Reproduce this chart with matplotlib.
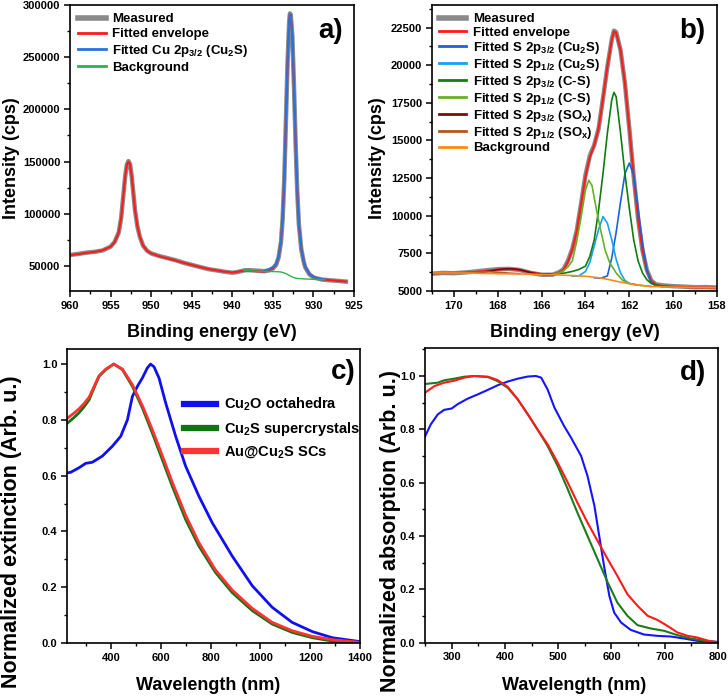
import matplotlib
matplotlib.use("Agg")
import matplotlib.pyplot as plt
from matplotlib.ticker import MultipleLocator, AutoMinorLocator

plt.rcParams['font.family'] = ['Liberation Sans', 'DejaVu Sans']
plt.rcParams['font.weight'] = 'bold'
plt.rcParams['axes.labelweight'] = 'bold'
plt.rcParams['mathtext.fontset'] = 'custom'
plt.rcParams['mathtext.rm'] = 'Liberation Sans:bold'
plt.rcParams['mathtext.bf'] = 'Liberation Sans:bold'
plt.rcParams['mathtext.it'] = 'Liberation Sans:bold'
plt.rcParams['mathtext.default'] = 'bf'

# ---- a) Cu 2p XPS ----
a_energy = [960.0, 959.0, 958.0, 957.0, 956.0, 955.0, 954.5, 954.0, 953.7, 953.4,
            953.2, 953.0, 952.8, 952.6, 952.4, 952.2, 952.0, 951.7, 951.4, 951.0,
            950.5, 950.0, 949.0, 948.0, 947.0, 946.0, 945.0, 944.0, 943.0, 942.0,
            941.0, 940.0, 939.5, 939.0, 938.5, 938.0, 937.0, 936.0, 935.5, 935.0,
            934.6, 934.3, 934.0, 933.8, 933.6, 933.4, 933.2, 933.0, 932.9, 932.8,
            932.6, 932.4, 932.2, 932.0, 931.8, 931.5, 931.2, 931.0, 930.5, 930.0,
            929.5, 929.0, 928.0, 927.0, 926.0]
a_measured = [60500, 61500, 62700, 63500, 64800, 68500, 73000, 82000, 96000, 120000,
              136000, 147000, 150500, 147500, 136000, 120000, 104000, 88000, 78000, 69500,
              64500, 62000, 59500, 57500, 55500, 53000, 51000, 49000, 47000, 45800,
              44500, 43500, 44000, 44800, 45800, 46000, 45500, 45000, 45800, 47500,
              51000, 58000, 73000, 95000, 132000, 187000, 243000, 283000, 292000, 291000,
              270000, 222000, 168000, 122000, 90000, 66000, 54000, 48500, 42000, 39000,
              38000, 37000, 36300, 35700, 35000]
a_envelope = [60300, 61400, 62500, 63500, 64900, 68500, 73000, 82000, 96000, 120000,
              136000, 147000, 150000, 147000, 136000, 120000, 104000, 88000, 78000, 69500,
              64500, 62000, 59300, 57300, 55300, 53000, 51000, 49000, 47200, 45800,
              44600, 43800, 44200, 45000, 45500, 45500, 45000, 44600, 45800, 47800,
              51500, 58500, 73500, 95500, 132000, 187000, 243000, 283000, 291000, 290500,
              269500, 221500, 168000, 122000, 90500, 66500, 54500, 48800, 42300, 39500,
              38000, 37200, 36400, 35700, 35100]
a_cu_energy = [936.2, 935.5, 935.0, 934.6, 934.3, 934.0, 933.8, 933.6, 933.4, 933.2,
               933.0, 932.9, 932.8, 932.6, 932.4, 932.2, 932.0, 931.8, 931.5, 931.2,
               931.0, 930.5, 930.0, 929.5, 929.0, 928.6]
a_cu_fit = [45000, 46800, 49000, 52500, 59000, 74000, 96000, 132000, 187000, 243000,
            283000, 291000, 290500, 269500, 221500, 168000, 122000, 90500, 66500, 54500,
            48800, 42300, 39500, 38000, 37300, 37000]
a_bg_energy = [938.6, 938.0, 937.0, 936.0, 935.0, 934.5, 934.0, 933.5, 933.0, 932.5,
               932.0, 931.0, 930.0, 929.0, 928.6]
a_background = [45800, 45500, 45000, 44800, 44600, 44500, 44200, 43000, 41000, 39000,
                38000, 37500, 37200, 37000, 37000]

# ---- b) S 2p XPS ----
b_energy = [171.0, 170.5, 170.0, 169.5, 169.0, 168.5, 168.0, 167.5, 167.0, 166.5,
            166.0, 165.5, 165.2, 165.0, 164.8, 164.6, 164.4, 164.2, 164.0, 163.8,
            163.6, 163.4, 163.2, 163.0, 162.8, 162.7, 162.6, 162.4, 162.2, 162.0,
            161.8, 161.6, 161.4, 161.2, 161.0, 160.8, 160.5, 160.0, 159.5, 159.0,
            158.5, 158.0]
b_measured = [6150, 6200, 6180, 6230, 6300, 6380, 6450, 6470, 6400, 6200,
              6080, 6080, 6250, 6450, 7000, 7800, 9000, 10800, 12700, 14000,
              14700, 15800, 17800, 19900, 21700, 22300, 22200, 21000, 18800, 15800,
              12600, 9800, 7700, 6400, 5700, 5450, 5380, 5320, 5290, 5250,
              5260, 5230]
b_envelope = [6180, 6190, 6200, 6220, 6270, 6340, 6420, 6460, 6400, 6250,
              6120, 6110, 6220, 6420, 6950, 7750, 8950, 10750, 12600, 13900,
              14700, 15800, 17800, 19900, 21700, 22250, 22150, 21000, 18800, 15800,
              12600, 9800, 7700, 6350, 5680, 5420, 5330, 5280, 5260, 5240,
              5230, 5220]
b_cu2s_32_e = [163.6, 163.3, 163.0, 162.8, 162.6, 162.4, 162.2, 162.0, 161.8, 161.6,
               161.4, 161.2, 161.0, 160.8, 160.5]
b_cu2s_32 = [5880, 5850, 6000, 7200, 8900, 10900, 12800, 13500, 12700, 10500,
             8200, 6400, 5550, 5350, 5290]
b_cu2s_12_e = [164.6, 164.3, 164.0, 163.8, 163.6, 163.4, 163.2, 163.0, 162.8, 162.6,
               162.4, 162.2, 162.0, 161.6]
b_cu2s_12 = [5980, 6000, 6300, 6900, 8000, 9100, 9950, 9500, 8400, 7100,
             6200, 5700, 5500, 5380]
b_cs_32_e = [166.0, 165.5, 165.0, 164.6, 164.3, 164.0, 163.8, 163.6, 163.4, 163.2,
             163.0, 162.8, 162.7, 162.6, 162.4, 162.2, 162.0, 161.8, 161.6, 161.4,
             161.2, 161.0, 160.6, 160.0]
b_cs_32 = [6110, 6130, 6180, 6300, 6430, 6650, 7300, 8400, 10400, 12800,
           15500, 17700, 18200, 17900, 15500, 12800, 10500, 8400, 7000, 6200,
           5750, 5500, 5350, 5270]
b_cs_12_e = [165.6, 165.2, 165.0, 164.8, 164.6, 164.4, 164.2, 164.0, 163.85, 163.7,
             163.5, 163.3, 163.1, 162.9, 162.6, 162.3, 162.0, 161.5, 161.0]
b_cs_12 = [6080, 6200, 6350, 6600, 7000, 8300, 9900, 11700, 12360, 12000,
           10400, 9000, 7700, 6900, 6200, 5700, 5500, 5380, 5300]
b_sox_32_e = [169.2, 168.8, 168.4, 168.0, 167.7, 167.4, 167.1, 166.8, 166.5, 166.2,
              165.8, 165.4]
b_sox_32 = [6180, 6230, 6320, 6420, 6470, 6480, 6440, 6340, 6220, 6140,
            6090, 6070]
b_sox_12_e = [170.0, 169.5, 169.0, 168.6, 168.2, 167.8, 167.4, 167.0]
b_sox_12 = [6200, 6210, 6250, 6290, 6260, 6220, 6180, 6150]
b_bg_e = [171.0, 170.0, 169.0, 168.0, 167.0, 166.0, 165.0, 164.5, 164.0, 163.5,
          163.0, 162.5, 162.0, 161.5, 161.0, 160.0, 159.0, 158.0]
b_background = [6200, 6200, 6180, 6150, 6130, 6100, 6050, 6020, 5980, 5900,
                5780, 5620, 5480, 5370, 5300, 5260, 5240, 5220]

# ---- c) extinction ----
c_blue_wl = [222, 237, 270, 297, 324, 364, 404, 438, 465, 485, 505, 525, 545, 558,
             572, 592, 619, 659, 699, 752, 806, 886, 967, 1047, 1127, 1208, 1288, 1400]
c_cu2o = [0.61, 0.612, 0.628, 0.644, 0.648, 0.67, 0.705, 0.741, 0.80, 0.884, 0.92,
          0.95, 0.986, 1.0, 0.99, 0.95, 0.86, 0.741, 0.634, 0.527, 0.431, 0.312,
          0.205, 0.128, 0.074, 0.041, 0.019, 0.005]
c_wl = [222, 250, 270, 290, 311, 331, 351, 378, 410, 445, 485, 525, 565, 605, 645,
        699, 752, 819, 886, 967, 1047, 1127, 1208, 1288, 1400]
c_cu2s = [0.787, 0.808, 0.825, 0.846, 0.872, 0.915, 0.956, 0.98, 1.0, 0.98, 0.92,
          0.843, 0.753, 0.658, 0.563, 0.443, 0.348, 0.253, 0.181, 0.116, 0.068,
          0.038, 0.019, 0.007, 0.0]
c_au = [0.805, 0.824, 0.839, 0.858, 0.881, 0.92, 0.958, 0.982, 1.0, 0.982, 0.926,
        0.851, 0.765, 0.672, 0.577, 0.458, 0.36, 0.262, 0.19, 0.124, 0.074, 0.044,
        0.024, 0.012, 0.002]

# ---- d) absorption ----
d_blue_wl = [250, 261, 274, 286, 300, 311, 330, 349, 368, 386, 405, 424, 443, 458,
             468, 480, 493, 511, 524, 543, 555, 568, 577, 586, 596, 605, 618, 636,
             661, 686, 711, 736, 761, 800]
d_cu2o = [0.773, 0.819, 0.856, 0.873, 0.878, 0.894, 0.915, 0.931, 0.948, 0.965,
          0.979, 0.99, 0.998, 1.0, 0.994, 0.95, 0.881, 0.8125, 0.769, 0.70, 0.625,
          0.5125, 0.40, 0.2875, 0.175, 0.1125, 0.075, 0.0475, 0.03, 0.025, 0.0225,
          0.015, 0.00625, 0.0025]
d_green_wl = [250, 274, 286, 305, 324, 342, 368, 386, 405, 424, 443, 461, 480, 499,
              518, 536, 555, 574, 593, 611, 630, 649, 674, 699, 724, 749, 774, 800]
d_cu2s = [0.97, 0.975, 0.984, 0.99, 0.9975, 1.0, 0.996, 0.981, 0.956, 0.9125, 0.856,
          0.80, 0.7375, 0.6625, 0.575, 0.4875, 0.40, 0.3125, 0.225, 0.15, 0.10, 0.065,
          0.0525, 0.04375, 0.0275, 0.015, 0.0075, 0.0]
d_red_wl = [250, 268, 286, 305, 324, 342, 368, 386, 405, 424, 443, 461, 480, 499,
            518, 536, 555, 574, 593, 611, 630, 649, 668, 686, 705, 724, 743, 761,
            780, 800]
d_au = [0.9375, 0.9625, 0.975, 0.9825, 0.994, 1.0, 0.9975, 0.985, 0.96, 0.9125,
        0.856, 0.80, 0.744, 0.675, 0.60, 0.525, 0.45, 0.381, 0.3125, 0.25, 0.181,
        0.1375, 0.10, 0.085, 0.0625, 0.0375, 0.025, 0.01875, 0.0075, 0.0]

fig = plt.figure(figsize=(7.28, 6.98), dpi=100)
ax_a = fig.add_axes([0.0962, 0.5831, 0.3901, 0.4097])
ax_b = fig.add_axes([0.5934, 0.5831, 0.3915, 0.4097])
ax_c = fig.add_axes([0.0920, 0.0788, 0.4025, 0.4212])
ax_d = fig.add_axes([0.5838, 0.0795, 0.4025, 0.4219])


def style(ax, xmaj, ymaj):
    ax.xaxis.set_major_locator(MultipleLocator(xmaj))
    ax.yaxis.set_major_locator(MultipleLocator(ymaj))
    ax.xaxis.set_minor_locator(AutoMinorLocator(2))
    ax.yaxis.set_minor_locator(AutoMinorLocator(2))
    ax.tick_params(which='major', direction='out', length=4, width=1.1,
                   labelsize=8, pad=3)
    ax.tick_params(which='minor', direction='out', length=2.2, width=1.0)
    for sp in ax.spines.values():
        sp.set_linewidth(1.2)


# a)
ax_a.plot(a_energy, a_measured, color='#8a8a8a', lw=3.2, label='Measured')
ax_a.plot(a_energy, a_envelope, color='#ff1a1a', lw=1.5, label='Fitted envelope')
ax_a.plot(a_cu_energy, a_cu_fit, color='#2a72de', lw=1.5,
          label='Fitted Cu 2p$_{3/2}$ (Cu$_2$S)')
ax_a.plot(a_bg_energy, a_background, color='#2cb34a', lw=1.0, label='Background')
ax_a.set_xlim(960, 925)
ax_a.set_ylim(26000, 300000)
style(ax_a, 5, 50000)
ax_a.set_xlabel('Binding energy (eV)', fontsize=13)
ax_a.set_ylabel('Intensity (cps)', fontsize=13)
ax_a.xaxis.set_label_coords(0.5, -0.115)
ax_a.yaxis.set_label_coords(-0.176, 0.465)
leg = ax_a.legend(loc='upper left', bbox_to_anchor=(0.01, 0.99), frameon=False,
                  fontsize=9.5, handlelength=2.1, handletextpad=0.5,
                  labelspacing=0.2, borderaxespad=0)
leg.get_lines()[0].set_linewidth(4)
for ln in leg.get_lines()[1:]:
    ln.set_linewidth(2)
ax_a.text(0.96, 0.955, 'a)', transform=ax_a.transAxes, fontsize=20,
          fontweight='bold', ha='right', va='top')

# b)
ax_b.plot(b_energy, b_measured, color='#8a8a8a', lw=3.2, label='Measured')
ax_b.plot(b_energy, b_envelope, color='#ff1a1a', lw=1.5, label='Fitted envelope')
ax_b.plot(b_cu2s_32_e, b_cu2s_32, color='#1d62d8', lw=1.2,
          label='Fitted S 2p$_{3/2}$ (Cu$_2$S)')
ax_b.plot(b_cu2s_12_e, b_cu2s_12, color='#1a9ff2', lw=1.2,
          label='Fitted S 2p$_{1/2}$ (Cu$_2$S)')
ax_b.plot(b_cs_32_e, b_cs_32, color='#0f7d0f', lw=1.2,
          label='Fitted S 2p$_{3/2}$ (C-S)')
ax_b.plot(b_cs_12_e, b_cs_12, color='#69b026', lw=1.2,
          label='Fitted S 2p$_{1/2}$ (C-S)')
ax_b.plot(b_sox_32_e, b_sox_32, color='#7b0c0c', lw=1.2,
          label='Fitted S 2p$_{3/2}$ (SO$_x$)')
ax_b.plot(b_sox_12_e, b_sox_12, color='#b4561e', lw=1.2,
          label='Fitted S 2p$_{1/2}$ (SO$_x$)')
ax_b.plot(b_bg_e, b_background, color='#ff8a1a', lw=1.2, label='Background')
ax_b.set_xlim(171, 158)
ax_b.set_ylim(5000, 24000)
style(ax_b, 2, 2500)
ax_b.set_xlabel('Binding energy (eV)', fontsize=13)
ax_b.set_ylabel('Intensity (cps)', fontsize=13)
ax_b.xaxis.set_label_coords(0.5, -0.115)
ax_b.yaxis.set_label_coords(-0.161, 0.465)
leg = ax_b.legend(loc='upper left', bbox_to_anchor=(0.005, 0.99), frameon=False,
                  fontsize=9.5, handlelength=2.1, handletextpad=0.5,
                  labelspacing=0.08, borderaxespad=0)
leg.get_lines()[0].set_linewidth(4)
for ln in leg.get_lines()[1:]:
    ln.set_linewidth(2)
ax_b.text(0.96, 0.955, 'b)', transform=ax_b.transAxes, fontsize=20,
          fontweight='bold', ha='right', va='top')

# c)
ax_c.plot(c_blue_wl, c_cu2o, color='#1010ee', lw=2.0, label='Cu$_2$O octahedra')
ax_c.plot(c_wl, c_cu2s, color='#107510', lw=2.0, label='Cu$_2$S supercrystals')
ax_c.plot(c_wl, c_au, color='#ff3333', lw=2.0, label='Au@Cu$_2$S SCs')
ax_c.set_xlim(222, 1400)
ax_c.set_ylim(0, 1.054)
style(ax_c, 200, 0.2)
ax_c.set_xlabel('Wavelength (nm)', fontsize=13)
ax_c.set_ylabel('Normalized extinction (Arb. u.)', fontsize=15.5)
ax_c.xaxis.set_label_coords(0.48, -0.116)
ax_c.yaxis.set_label_coords(-0.153, 0.378)
leg = ax_c.legend(loc='upper left', bbox_to_anchor=(0.38, 0.86), frameon=False,
                  fontsize=10.5, handlelength=2.2, handletextpad=0.5,
                  labelspacing=0.45, borderaxespad=0)
for ln in leg.get_lines():
    ln.set_linewidth(4.5)
ax_c.text(0.985, 0.965, 'c)', transform=ax_c.transAxes, fontsize=20,
          fontweight='bold', ha='right', va='top')

# d)
ax_d.plot(d_blue_wl, d_cu2o, color='#1414ff', lw=1.5)
ax_d.plot(d_green_wl, d_cu2s, color='#1c7c1c', lw=1.5)
ax_d.plot(d_red_wl, d_au, color='#ff1a1a', lw=1.5)
ax_d.set_xlim(250, 800)
ax_d.set_ylim(0, 1.105)
style(ax_d, 100, 0.2)
ax_d.set_xlabel('Wavelength (nm)', fontsize=13)
ax_d.set_ylabel('Normalized absorption (Arb. u.)', fontsize=15.5)
ax_d.xaxis.set_label_coords(0.51, -0.117)
ax_d.yaxis.set_label_coords(-0.082, 0.378)
ax_d.text(0.96, 0.96, 'd)', transform=ax_d.transAxes, fontsize=20,
          fontweight='bold', ha='right', va='top')

fig.savefig('out.png', dpi=100)
